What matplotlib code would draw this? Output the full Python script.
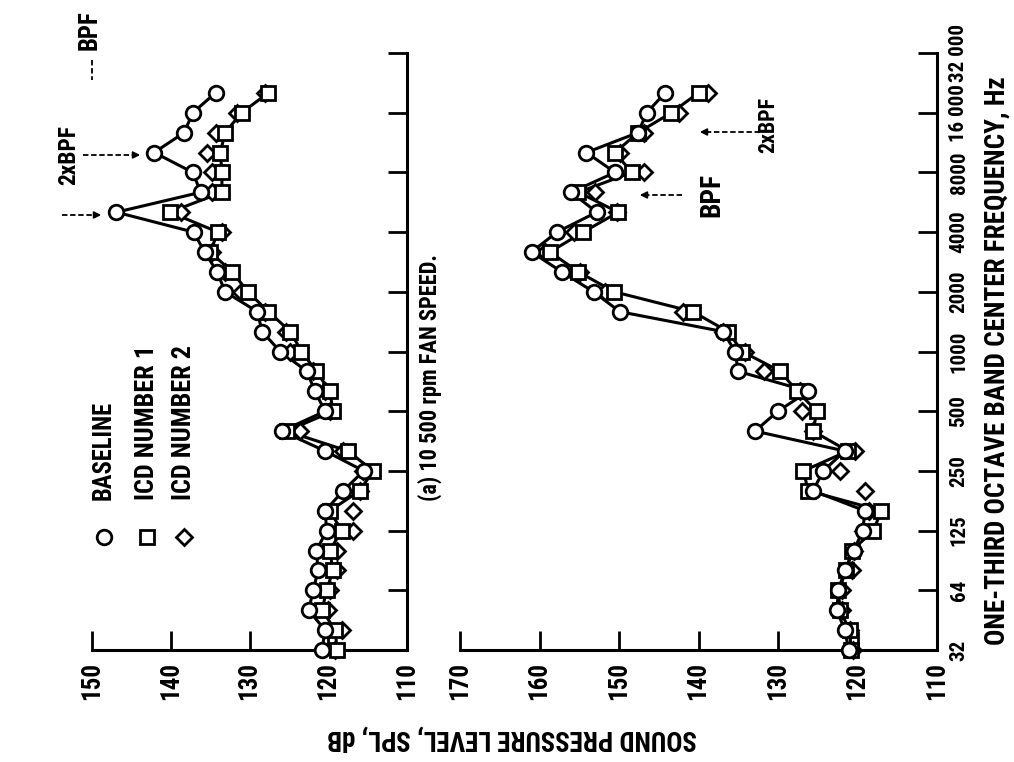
import matplotlib
matplotlib.use("Agg")
import matplotlib.pyplot as plt
from matplotlib import font_manager as fm
from matplotlib.lines import Line2D
from matplotlib.patches import FancyArrowPatch

# pick a narrow face if one is installed, otherwise plain DejaVu Sans
fonts = fm.fontManager.ttflist
names = {f.name for f in fonts}
family = "DejaVu Sans"
stretch = "normal"
for cand in ["Liberation Sans Narrow", "Roboto Condensed", "DejaVu Sans Condensed", "Open Sans Condensed"]:
    if cand in names:
        family = cand
        break
else:
    if any(f.name == "DejaVu Sans" and f.stretch == "condensed" for f in fonts):
        stretch = "condensed"
plt.rcParams["font.family"] = [family, "DejaVu Sans"]
plt.rcParams["font.stretch"] = stretch

# one-third octave bands, index 0 = 32 Hz ... 30 = 32 000 Hz
freq_ticks = [0, 3, 6, 9, 12, 15, 18, 21, 24, 27, 30]
freq_labels = ["32", "64", "125", "250", "500", "1000", "2000", "4000", "8000", "16 000", "32 000"]
bands = list(range(29))

# (a) 10 500 rpm fan speed
base_a = [120.8, 120.4, 122.5, 121.9, 121.3, 121.5, 120.2, 120.4, 118.1, 115.5, 120.4, 125.9, 120.4, 121.7, 122.7,
          126.1, 128.4, 129.0, 133.1, 134.1, 135.7, 137.1, 146.9, 136.2, 137.2, 142.1, 138.3, 137.2, 134.3]
icd1_a = [118.9, 119.1, 120.8, 120.2, 119.4, 119.8, 118.3, 119.8, 116.0, 114.3, 117.5, 125.3, 119.4, 119.8, 121.5,
          123.4, 124.8, 127.6, 130.2, 132.2, 135.0, 134.0, 140.1, 133.5, 133.5, 133.7, 133.1, 131.0, 127.6]
icd2_a = [119.1, 118.3, 120.0, 119.8, 118.9, 118.9, 116.8, 116.8, 116.0, 115.6, 118.1, 123.6, 119.8, 120.4, 122.0,
          124.9, 125.4, 128.0, 131.1, 133.1, 134.7, 133.5, 138.7, 134.8, 134.8, 135.4, 134.2, 131.6, 128.0]

# lower panel
base_b = [121.1, 121.6, 122.6, 122.4, 121.6, 120.5, 119.3, 119.1, 125.6, 124.3, 121.6, 132.9, 130.0, 126.2, 135.0,
          135.4, 136.9, 149.9, 153.2, 157.2, 161.0, 157.8, 152.8, 156.0, 150.5, 154.1, 147.6, 146.5, 144.2]
icd1_b = [120.8, 121.0, 122.2, 122.4, 121.4, 120.7, 118.0, 117.0, 126.2, 126.8, 121.2, 125.6, 125.1, 127.6, 129.7,
          134.5, 136.3, 140.7, 150.6, 155.1, 158.7, 154.5, 150.1, 155.1, 148.4, 150.5, 147.6, 143.4, 140.0]
icd2_b = [120.6, 121.0, 122.0, 122.0, 120.7, 120.5, 119.3, 118.6, 119.1, 122.2, 120.3, 125.6, 127.0, 127.2, 131.8,
          134.2, 136.9, 141.9, 151.8, 154.9, 159.3, 155.7, 150.3, 153.0, 146.9, 149.9, 146.9, 142.5, 138.8]

W, H = 1014, 762
fig = plt.figure(figsize=(W / 100, H / 100), dpi=100)
fig.canvas.draw()
renderer = fig.canvas.get_renderer()


def fx(x):
    return x / W


def fy(y):
    return 1 - y / H


def fit_size(s, length, rotation=90, start=20, cap=20):
    # font size that gives the text this length (px) along its reading direction
    t = fig.text(0.5, 0.5, s, fontsize=start, fontweight="bold", rotation=rotation)
    bb = t.get_window_extent(renderer)
    t.remove()
    cur = bb.height if rotation in (90, 270) else bb.width
    return min(cap, start * length / cur)


def ftext(x, y, s, length, rotation=90, cap=20, **kw):
    fs = fit_size(s, length, rotation, cap=cap)
    fig.text(fx(x), fy(y), s, fontweight="bold", fontsize=fs, rotation=rotation,
             ha="center", va="center", **kw)


spl_fs = fit_size("150", 38)
freq_fs = fit_size("125", 32)


def px_axes(x0, x1, y0, y1):
    return fig.add_axes([fx(x0), fy(y1), (x1 - x0) / W, (y1 - y0) / H])


def style(ax, spl_hi, show_freq):
    ax.set_xlim(spl_hi, 110)
    ax.set_ylim(0, 30)
    for s in ["top", "left"]:
        ax.spines[s].set_visible(False)
    for s in ["bottom", "right"]:
        ax.spines[s].set_linewidth(2.2)
    ax.set_xticks(list(range(spl_hi, 109, -10)))
    ax.tick_params(axis="x", direction="in", length=14, width=2, pad=9, labelsize=spl_fs, labelrotation=90)
    for t in ax.get_xticklabels():
        t.set_fontweight("bold")
    ax.yaxis.tick_right()
    ax.set_yticks(freq_ticks)
    ax.tick_params(axis="y", direction="in", length=14, width=2, pad=9, labelsize=freq_fs,
                   labelright=show_freq, labelleft=False)
    if show_freq:
        ax.set_yticklabels(freq_labels)
        for t in ax.get_yticklabels():
            t.set_rotation(90)
            t.set_va("center")
            t.set_fontweight("bold")


def draw(ax, base, icd1, icd2):
    ax.plot(base, bands, color="black", lw=2.2, zorder=2, clip_on=False)
    ax.plot(icd1, bands, color="black", lw=2.2, zorder=2, clip_on=False)
    mk = dict(ls="none", mfc="white", mec="black", mew=2, zorder=3, clip_on=False)
    ax.plot(icd2, bands, marker="D", ms=8.5, **mk)
    ax.plot(icd1, bands, marker="s", ms=9.5, **mk)
    ax.plot(base, bands, marker="o", ms=10.5, **mk)


ax_a = px_axes(92, 407, 53, 650)
ax_b = px_axes(460, 937, 53, 650)
style(ax_a, 150, False)
style(ax_b, 170, True)
draw(ax_a, base_a, icd1_a, icd2_a)
draw(ax_b, base_b, icd1_b, icd2_b)

# axis titles
ftext(997, 361, "ONE-THIRD OCTAVE BAND CENTER FREQUENCY, Hz", 568)
ftext(512, 738, "SOUND PRESSURE LEVEL, SPL, dB", 370, rotation=180)
ftext(430, 378, "(a) 10 500 rpm FAN SPEED.", 248)

# legend
leg = [("o", 10.5, "BASELINE", 104, 100), ("s", 9.5, "ICD NUMBER 1", 147, 155), ("D", 8.5, "ICD NUMBER 2", 184, 155)]
for m, ms, lab, x, ln in leg:
    fig.add_artist(Line2D([fx(x)], [fy(537)], transform=fig.transFigure, marker=m, ms=ms,
                          mfc="white", mec="black", mew=2, ls="none"))
    ftext(x, 500 - ln / 2, lab, ln)


def arrow(x0, x1, y):
    # dashed shaft from x0, small solid head ending at x1
    d = 1 if x1 > x0 else -1
    fig.add_artist(Line2D([fx(x0), fx(x1 - d * 8)], [fy(y), fy(y)], transform=fig.transFigure,
                          color="black", lw=1.3, ls=(0, (3, 1.5))))
    fig.add_artist(FancyArrowPatch((fx(x1 - d * 10), fy(y)), (fx(x1), fy(y)),
                                   transform=fig.transFigure, arrowstyle="-|>",
                                   mutation_scale=10, color="black", lw=1.3))


# annotations, upper panel
ftext(90, 30, "BPF", 40)
fig.add_artist(Line2D([fx(92), fx(92)], [fy(60), fy(80)], transform=fig.transFigure,
                      color="black", lw=1.3, ls=(0, (3, 1.5))))
arrow(62, 104, 215)
ftext(69, 155, "2xBPF", 60)
arrow(83, 143, 155)

# annotations, lower panel
ftext(712, 195, "BPF", 44)
arrow(682, 637, 195)
ftext(768, 125, "2xBPF", 56)
arrow(760, 697, 132)

fig.savefig("out.png", dpi=100)
